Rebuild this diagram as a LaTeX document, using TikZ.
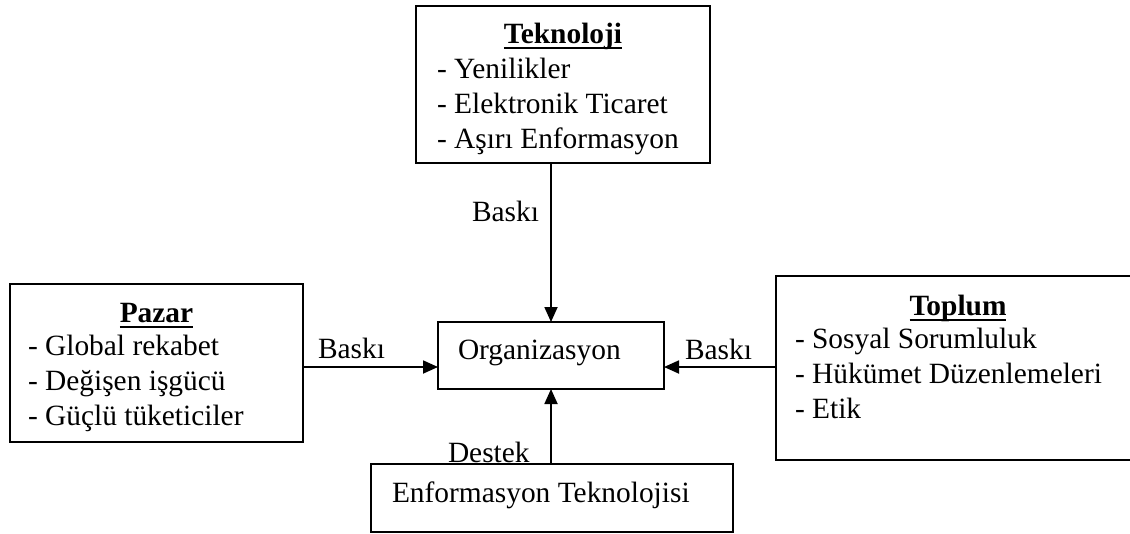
\documentclass[tikz,border=0pt]{standalone}
\usepackage{fontspec}
\setmainfont{Liberation Serif}
\usetikzlibrary{arrows.meta}
\begin{document}
\begin{tikzpicture}[x=1pt,y=-1pt,
  box/.style={draw,line width=1.8pt,inner sep=0pt,outer sep=0pt},
  txt/.style={inner sep=0pt,outer sep=0pt,anchor=base west,
    font=\fontsize{29.4pt}{35pt}\selectfont},
  ttl/.style={txt,anchor=base,font=\fontsize{29.4pt}{35pt}\selectfont\bfseries},
  uline/.style={line width=1.8pt},
  arr/.style={line width=1.8pt,-{Triangle[length=15pt,width=13pt]}}]
\useasboundingbox (0,0) rectangle (1130,533);

% frames
\node[box,minimum width=294pt,minimum height=157pt] (tek) at (563,84.5) {};
\node[box,minimum width=293pt,minimum height=158pt] (paz) at (156.5,363) {};
\node[box,minimum width=226pt,minimum height=67pt] (org) at (551,355.5) {};
\node[box,minimum width=420pt,minimum height=184pt] (top) at (986,368) {};
\node[box,minimum width=362pt,minimum height=68pt] (enf) at (552,498) {};

% Teknoloji
\node[ttl] (tekT) at (563,43) {Teknoloji};
\draw[uline] ([yshift=-5pt]tekT.base west) -- ([yshift=-5pt]tekT.base east);
\node[txt] (tek1) at (437,78) {- Yenilikler};
\node[txt] (tek2) at (437,113) {- Elektronik Ticaret};
\node[txt] (tek3) at (437,148) {- Aşırı Enformasyon};

% Pazar
\node[ttl] (pazT) at (156.5,322) {Pazar};
\draw[uline] ([yshift=-5pt]pazT.base west) -- ([yshift=-5pt]pazT.base east);
\node[txt] (paz1) at (28,355) {- Global rekabet};
\node[txt] (paz2) at (28,390) {- Değişen işgücü};
\node[txt] (paz3) at (28,425) {- Güçlü tüketiciler};

% Organizasyon
\node[txt] (orgT) at (458,359) {Organizasyon};

% Toplum
\node[ttl] (topT) at (958,315) {Toplum};
\draw[uline] ([yshift=-5pt]topT.base west) -- ([yshift=-5pt]topT.base east);
\node[txt] (top1) at (795,348) {- Sosyal Sorumluluk};
\node[txt] (top2) at (795,383) {- Hükümet Düzenlemeleri};
\node[txt] (top3) at (795,418) {- Etik};

% Enformasyon Teknolojisi
\node[txt] (enfT) at (392,502) {Enformasyon Teknolojisi};

% connectors
\coordinate (hy) at (0,367);
\draw[arr] (tek.south -| org.north) -- (org.north);
\draw[arr] (enf.north -| org.south) -- (org.south);
\draw[arr] (paz.east |- hy) -- (org.west |- hy);
\draw[arr] (top.west |- hy) -- (org.east |- hy);

% connector labels
\node[txt] (l1) at (472,221) {Baskı};
\node[txt] (l2) at (318,358) {Baskı};
\node[txt] (l3) at (685,359) {Baskı};
\node[txt] (l4) at (448,462) {Destek};
\end{tikzpicture}
\end{document}
